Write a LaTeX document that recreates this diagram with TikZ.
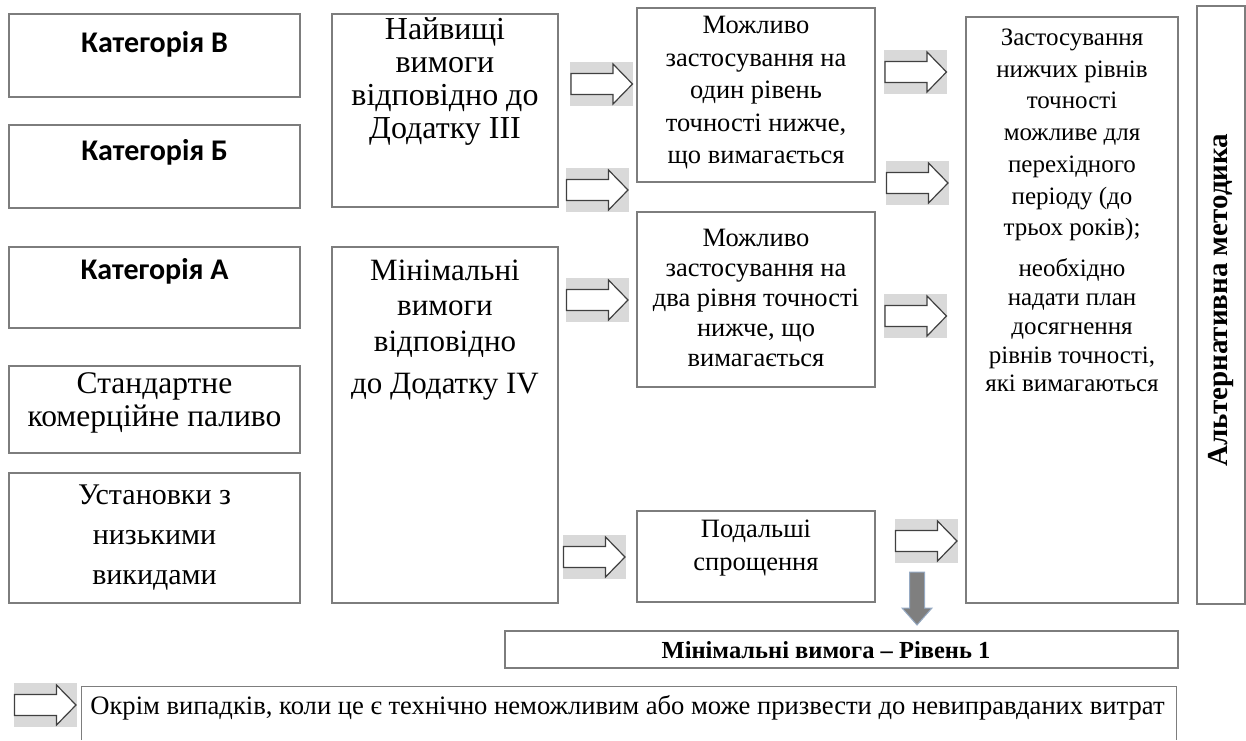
\documentclass[tikz,border=0pt]{standalone}
\usepackage{fontspec}
\setmainfont{Liberation Serif}
\newfontfamily\calib{Carlito}
\definecolor{bordergray}{RGB}{125,125,125}
\definecolor{arrbggray}{RGB}{217,217,217}
\definecolor{arrline}{RGB}{64,64,64}
\definecolor{downfill}{RGB}{127,127,127}
\definecolor{downline}{RGB}{150,170,195}
\newcommand\fs[2]{\fontsize{#1}{#2}\selectfont}
\newcommand\blockarrow[3]{%
  \node[arrbg] (#1) at (#2,#3) {};
  \draw[blockarr] ([shift={(-30.5,-10.5)}]#1.center) -- ++(42,0) -- ++(0,-9.5)
    -- ++(19.5,20) -- ++(-19.5,20) -- ++(0,-9.5) -- ++(-42,0) -- cycle;}
\begin{document}
\begin{tikzpicture}[x=1pt,y=-1pt,
  box/.style={draw=bordergray,line width=1.3pt,inner sep=0pt},
  txt/.style={align=center,inner sep=0pt},
  cat/.style={txt,font=\calib\bfseries\fs{30}{36}},
  arrbg/.style={fill=arrbggray,minimum width=63pt,minimum height=44pt,inner sep=0pt},
  blockarr/.style={draw=arrline,line width=1.2pt,fill=white,line join=miter},
  downarr/.style={draw=downline,line width=1pt,fill=downfill,line join=miter}]
\useasboundingbox (0,0) rectangle (1246,740);
% left column
\node[box,minimum width=291pt,minimum height=83pt] (lb1) at (154.5,55.5) {};
\node[box,minimum width=291pt,minimum height=83pt] (lb2) at (154.5,166.5) {};
\node[box,minimum width=291pt,minimum height=81pt] (lb3) at (154.5,287.5) {};
\node[box,minimum width=291pt,minimum height=87pt] (lb4) at (154.5,409.5) {};
\node[box,minimum width=291pt,minimum height=130pt] (lb5) at (154.5,538) {};
\node[cat] (tlb1) at (154.5,44) {Категорія В};
\node[cat] (tlb2) at (154.5,152) {Категорія Б};
\node[cat] (tlb3) at (154.5,271) {Категорія А};
\node[txt,font=\fs{31.5}{33}] (tlb4) at (154.5,403) {Стандартне\\комерційне паливо};
\node[txt,font=\fs{30}{40}] (tlb5) at (154.5,538) {Установки з\\низькими\\викидами};
% column 2
\node[box,minimum width=226pt,minimum height=193pt] (c2a) at (445,110.5) {};
\node[box,minimum width=226pt,minimum height=356pt] (c2b) at (445,425) {};
\node[txt,font=\fs{32}{33}] (tc2a) at (445,81) {Найвищі\\вимоги\\відповідно до\\Додатку III};
\node[txt,font=\fs{31}{35.5}] (tc2b) at (445,330) {Мінімальні\\вимоги\\відповідно\\[7pt]до Додатку IV};
% column 3
\node[box,minimum width=238pt,minimum height=174pt] (c3a) at (756,95) {};
\node[box,minimum width=238pt,minimum height=175pt] (c3b) at (756,299.5) {};
\node[box,minimum width=238pt,minimum height=91pt] (c3c) at (756,556.5) {};
\node[txt,font=\fs{26.5}{32.5}] (tc3a) at (756,93) {Можливо\\застосування на\\один рівень\\точності нижче,\\що вимагається};
\node[txt,font=\fs{26.5}{30}] (tc3b) at (756,297.5) {Можливо\\застосування на\\два рівня точності\\нижче, що\\вимагається};
\node[txt,font=\fs{26.5}{33}] (tc3c) at (756,548) {Подальші\\спрощення};
% column 4
\node[box,minimum width=212pt,minimum height=586pt] (c4) at (1072,310) {};
\node[txt,font=\fs{25}{31.7}] (tc4a) at (1072,135) {Застосування\\нижчих рівнів\\точності\\можливе для\\перехідного\\періоду (до\\трьох років);};
\node[txt,font=\fs{25}{28.8}] (tc4b) at (1072,325.5) {необхідно\\надати план\\досягнення\\рівнів точності,\\які вимагаються};
% alternative
\node[box,minimum width=48pt,minimum height=598pt] (alt) at (1221,305) {};
\node[txt,rotate=90,font=\bfseries\fs{29}{32}] (talt) at (1221,300) {Альтернативна методика};
% bottom box
\node[box,minimum width=673pt,minimum height=37pt] (minb) at (841.5,649.5) {};
\node[txt,font=\bfseries\fs{24.5}{28}] (tminb) at (826,650) {Мінімальні вимога -- Рівень 1};
% arrows
\blockarrow{a1}{601.5}{84}
\blockarrow{a2}{597}{190}
\blockarrow{a3}{597}{300}
\blockarrow{a4}{594}{557}
\blockarrow{b1}{915.5}{72}
\blockarrow{b2}{917}{183}
\blockarrow{b3}{915.5}{316}
\blockarrow{b4}{926}{541}
\blockarrow{leg}{45}{705}
\coordinate (down) at (917,572);
\draw[downarr] ([shift={(-7.5,0)}]down) -- ++(15,0) -- ++(0,36) -- ++(7.5,0) -- ++(-15,17) -- ++(-15,-17) -- ++(7.5,0) -- cycle;
% legend
\node[inner sep=0pt,minimum width=1094pt,minimum height=53pt] (legbox) at (629,713.5) {};
\draw[draw=bordergray,line width=1.3pt] (legbox.south west) -- (legbox.north west) -- (legbox.north east) -- (legbox.south east);
\node[txt,font=\fs{26.6}{30}] (tleg) at (627.5,708) {Окрім випадків, коли це є технічно неможливим або може призвести до невиправданих витрат};
\end{tikzpicture}
\end{document}
